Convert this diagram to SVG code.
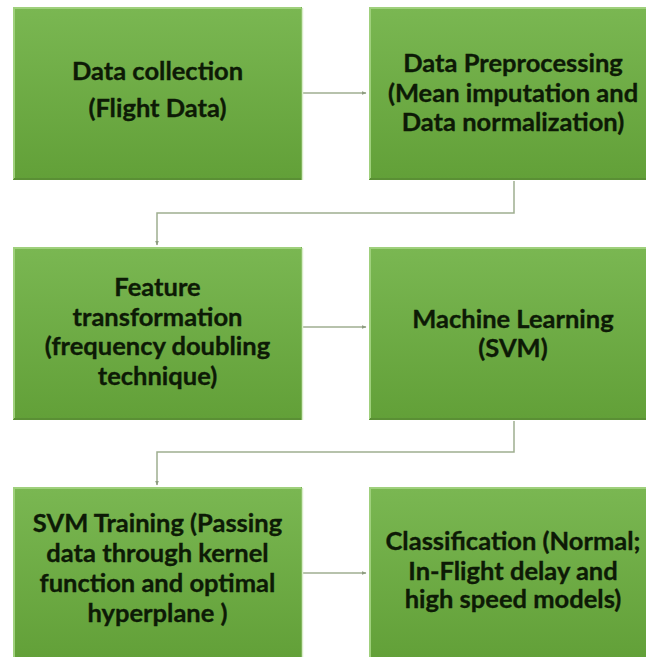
<svg xmlns="http://www.w3.org/2000/svg" width="646" height="657" viewBox="0 0 646 657">
  <style>
    .box { fill: url(#g); stroke: none; }
    .hl { fill: none; stroke: #9fd07c; stroke-width: 2; }
    .sh { fill: none; stroke: #5a8f35; stroke-width: 2; }
    .edge { fill: none; stroke: #d8ecc8; stroke-width: 1.5; }
    .t { font-family: Lato, "Open Sans", "Liberation Sans", sans-serif; font-weight: bold; font-size: 25.5px; fill: #0d1a06; stroke: #0d1a06; stroke-width: 0.35; text-anchor: middle; }
    .c { fill: none; stroke: #9fae90; stroke-width: 1.5; marker-end: url(#ah); }
  </style>
  <defs>
    <linearGradient id="g" x1="0" y1="0" x2="0" y2="1">
      <stop offset="0" stop-color="#7ab752"/>
      <stop offset="1" stop-color="#62a038"/>
    </linearGradient>
    <marker id="ah" viewBox="0 0 10 10" refX="9" refY="5" markerWidth="5" markerHeight="5" orient="auto" markerUnits="userSpaceOnUse">
      <path d="M0,1 L10,5 L0,9 Z" fill="#8d9c80"/>
    </marker>
  </defs>
  <rect width="646" height="657" fill="#ffffff"/>

  <g id="connectors">
    <path class="c" d="M303,93 H366"/>
    <path class="c" d="M514,181 V213 H157 V245"/>
    <path class="c" d="M303,327 H366"/>
    <path class="c" d="M514,421 V452 H157 V485"/>
    <path class="c" d="M303,573 H366"/>
  </g>

  <g id="n1">
    <rect class="box" x="13" y="7" width="289" height="173"/>
    <path class="hl" d="M14,179 V8 H301"/>
    <path class="sh" d="M14,179 H301"/>
    <path class="edge" d="M302.5,8 V180"/>
    <text class="t" x="157.5" y="80">Data collection</text>
    <text class="t" x="157.5" y="117">(Flight Data)</text>
  </g>

  <g id="n2">
    <rect class="box" x="369" y="7" width="289" height="173"/>
    <path class="hl" d="M370,179 V8 H657"/>
    <path class="sh" d="M370,179 H657"/>
    <text class="t" x="513" y="72">Data Preprocessing</text>
    <text class="t" x="513" y="102">(Mean imputation and</text>
    <text class="t" x="513" y="131">Data normalization)</text>
  </g>

  <g id="n3">
    <rect class="box" x="13" y="247" width="289" height="173"/>
    <path class="hl" d="M14,419 V248 H301"/>
    <path class="sh" d="M14,419 H301"/>
    <path class="edge" d="M302.5,248 V420"/>
    <text class="t" x="157.5" y="296">Feature</text>
    <text class="t" x="157.5" y="326">transformation</text>
    <text class="t" x="157.5" y="355">(frequency doubling</text>
    <text class="t" x="157.5" y="385">technique)</text>
  </g>

  <g id="n4">
    <rect class="box" x="369" y="247" width="289" height="173"/>
    <path class="hl" d="M370,419 V248 H657"/>
    <path class="sh" d="M370,419 H657"/>
    <text class="t" x="513" y="328">Machine Learning</text>
    <text class="t" x="513" y="357">(SVM)</text>
  </g>

  <g id="n5">
    <rect class="box" x="13" y="487" width="289" height="173"/>
    <path class="hl" d="M14,660 V488 H301"/>
    <path class="edge" d="M302.5,488 V660"/>
    <text class="t" x="157.5" y="532">SVM Training (Passing</text>
    <text class="t" x="157.5" y="562">data through kernel</text>
    <text class="t" x="157.5" y="592">function and optimal</text>
    <text class="t" x="157.5" y="622">hyperplane )</text>
  </g>

  <g id="n6">
    <rect class="box" x="369" y="487" width="289" height="173"/>
    <path class="hl" d="M370,660 V488 H657"/>
    <text class="t" x="513" y="550">Classification (Normal;</text>
    <text class="t" x="513" y="580">In-Flight delay and</text>
    <text class="t" x="513" y="608">high speed models)</text>
  </g>
</svg>
